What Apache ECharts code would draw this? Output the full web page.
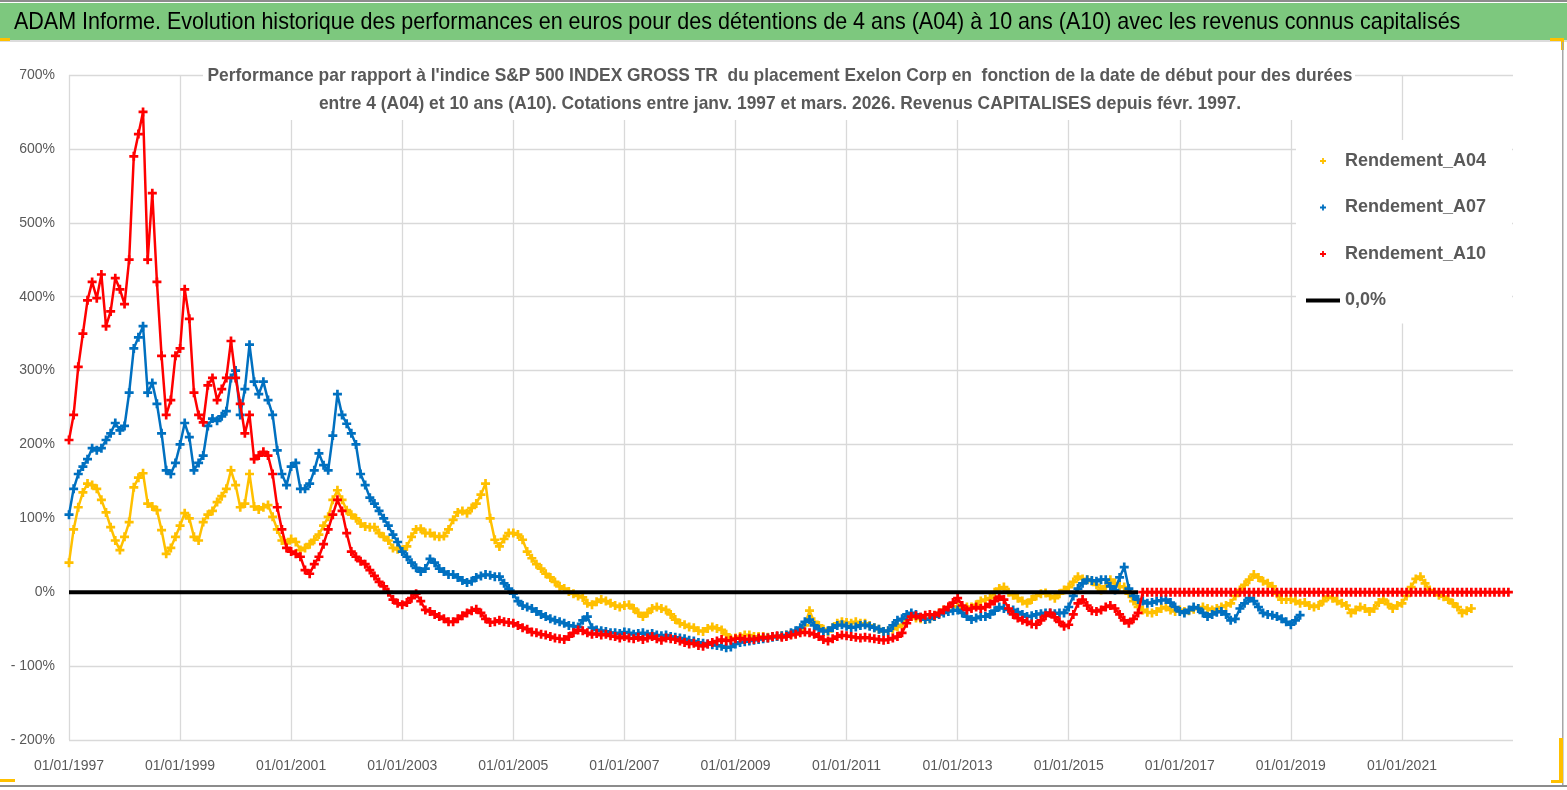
<!DOCTYPE html>
<html>
<head>
<meta charset="utf-8">
<script src="https://cdn.jsdelivr.net/npm/echarts@6/dist/echarts.min.js"></script>
<style>
  html, body { margin: 0; padding: 0; background: #ffffff; }
  #chart { width: 1567px; height: 790px; }
</style>
</head>
<body>
<div id="chart"></div>
<script>
// ---- Data (monthly readings, first value = January 1997) ----
const startYear = 1997;
const xTickYears = [1997, 1999, 2001, 2003, 2005, 2007, 2009, 2011, 2013, 2015, 2017, 2019, 2021];
const yTicks = [-200, -100, 0, 100, 200, 300, 400, 500, 600, 700];
const seriesNames = ['Rendement_A04', 'Rendement_A07', 'Rendement_A10', '0,0%'];

const rendementA04 = [
  40, 85, 115, 135, 147, 145, 140, 125, 108, 88, 70, 57,
  75, 95, 142, 155, 161, 120, 116, 111, 84, 52, 60, 75,
  90, 107, 100, 75, 70, 95, 105, 110, 122, 130, 140, 165,
  145, 115, 120, 160, 116, 112, 115, 118, 102, 85, 70, 66,
  72, 68, 57, 60, 65, 71, 78, 90, 102, 125, 138, 125,
  111, 105, 100, 93, 89, 88, 88, 80, 75, 70, 60, 58,
  57, 62, 75, 85, 86, 80, 80, 76, 75, 76, 85, 98,
  108, 110, 107, 114, 120, 132, 147, 100, 71, 62, 72, 80,
  80, 78, 71, 55, 46, 38, 32, 25, 20, 14, 8, 5,
  1, -2, -5, -7, -15, -17, -13, -10, -12, -15, -18, -20,
  -18, -17, -22, -28, -33, -28, -22, -20, -22, -24, -30, -37,
  -42, -44, -47, -48, -52, -53, -49, -47, -49, -51, -57, -63,
  -62, -60, -58, -58, -60, -60, -60, -61, -60, -60, -59, -58,
  -57, -55, -52, -45, -25, -40, -45, -50, -53, -48, -42, -40,
  -41, -42, -40, -42, -42, -45, -48, -50, -53, -52, -50, -47,
  -44, -36, -33, -35, -36, -37, -36, -33, -28, -24, -20, -19,
  -20, -21, -20, -20, -17, -12, -10, -8, 0, 5, 7, 0,
  -4, -8, -12, -15, -10, -5, -2, -1, -5, -8, -2, 3,
  7, 14, 21, 18, 17, 15, 10, 3, 8, 17, 12, 8,
  7, -2, -12, -20, -24, -27, -28, -26, -22, -20, -24, -26,
  -24, -26, -25, -23, -22, -20, -22, -24, -22, -20, -18, -15,
  -5, 3, 10, 17, 24, 20, 15, 12, 8, -2, -10, -10,
  -10, -12, -15, -14, -18, -20, -18, -12, -6, -8, -12, -15,
  -18, -28, -24, -20, -22, -26, -22, -14, -10, -16, -22, -18,
  -15, -5, 7, 18, 21, 12, 3, 0, -4, -6, -10, -15,
  -20, -28, -25, -22
];

const rendementA07 = [
  105, 140, 160, 170, 180, 195, 192, 195, 206, 215, 229, 219,
  225, 270, 330, 345, 360, 270, 283, 255, 215, 165, 160, 175,
  200, 229, 210, 165, 175, 185, 225, 235, 232, 238, 245, 290,
  300, 240, 275, 335, 285, 268, 285, 260, 240, 192, 160, 145,
  170, 175, 140, 140, 147, 165, 188, 172, 165, 212, 268, 240,
  228, 215, 200, 160, 145, 128, 120, 110, 100, 90, 78, 68,
  55, 48, 40, 33, 28, 32, 45, 40, 32, 28, 24, 24,
  20, 16, 13, 15, 20, 22, 24, 23, 21, 21, 12, 5,
  -2, -12, -18, -20, -22, -26, -30, -33, -36, -38, -40, -42,
  -45, -46, -47, -38, -33, -48, -51, -52, -53, -55, -55, -56,
  -54, -55, -57, -56, -55, -57, -56, -58, -59, -58, -60, -61,
  -62, -63, -65, -66, -68, -69, -70, -71, -72, -73, -75, -74,
  -70, -68, -67, -66, -65, -64, -63, -62, -61, -60, -59, -58,
  -55, -52, -48, -40, -37, -45, -50, -53, -52, -48, -45, -44,
  -46, -48, -47, -45, -44, -46, -48, -50, -53, -52, -45, -38,
  -36, -30, -28, -30, -34, -37, -36, -33, -30, -28, -26, -25,
  -24, -28, -33, -37, -35, -33, -33, -30, -25, -20, -22, -24,
  -24, -27, -30, -33, -32, -30, -29, -28, -28, -29, -28, -28,
  -20, -5, 5, 12, 17, 16, 15, 17, 17, 8, 3, 20,
  34, 5, -5, -10, -12, -15, -14, -12, -11, -10, -14, -20,
  -26, -28, -24, -20, -22, -28, -33, -30, -27, -26, -30, -38,
  -36, -22, -15, -8, -12, -20, -28, -30, -31, -33, -36, -40,
  -44, -38, -31
];

const rendementA10 = [
  206, 240, 305, 350, 395, 420, 398, 430, 360, 380, 425, 410,
  390, 450, 590, 620, 650, 450, 540, 420, 320, 240, 260, 320,
  330, 410, 370, 270, 240, 230, 280, 290, 260, 275, 290, 340,
  290, 255, 215, 240, 180, 185, 190, 185, 160, 115, 85, 60,
  55, 52, 48, 30, 25, 38, 48, 65, 85, 105, 125, 110,
  80, 55, 48, 42, 38, 30, 22, 14, 8, 0, -10, -15,
  -17, -14, -8, -2, -12, -24, -26, -30, -33, -36, -40, -40,
  -36, -32, -28, -25, -23, -28, -36, -41, -40, -38, -40, -41,
  -42, -45, -48, -50, -54, -55, -57, -58, -60, -62, -63, -64,
  -60, -55, -51, -52, -55, -57, -56, -58, -57, -59, -60, -62,
  -60, -62, -63, -61, -64, -62, -60, -63, -65, -62, -63, -64,
  -66, -68, -70, -69, -72, -73, -70, -68, -66, -64, -66, -65,
  -63, -62, -64, -63, -64, -62, -61, -62, -60, -59, -61, -60,
  -58, -57, -55, -54, -55, -57, -60, -64, -66, -63, -60, -58,
  -59, -60, -61, -62, -61, -62, -63, -64, -65, -64, -62, -60,
  -55, -42, -33, -32, -34, -31, -30, -31, -28, -24, -20, -14,
  -8, -18, -24, -22, -20, -22, -20, -16, -12, -6, -10, -22,
  -30, -35, -38, -40, -43, -44, -38, -32, -28, -34, -40, -46,
  -44, -30, -15, -10, -18, -25, -26, -24, -20, -18, -22, -30,
  -38, -42, -36, -28,
  0, 0, 0, 0, 0, 0, 0, 0,
  0, 0, 0, 0, 0, 0, 0, 0, 0, 0, 0, 0,
  0, 0, 0, 0, 0, 0, 0, 0, 0, 0, 0, 0,
  0, 0, 0, 0, 0, 0, 0, 0, 0, 0, 0, 0,
  0, 0, 0, 0, 0, 0, 0, 0, 0, 0, 0, 0,
  0, 0, 0, 0, 0, 0, 0, 0, 0, 0, 0, 0,
  0, 0, 0, 0, 0, 0, 0, 0, 0, 0, 0, 0
];

// 0,0% reference line : start and end (decimal years) with value 0
const zeroLineYears = [1997, 2016.25];
const zeroLineValues = [0, 0];

const mainTitle = 'ADAM Informe. Evolution historique des performances en euros pour des détentions de 4 ans (A04) à 10 ans (A10) avec les revenus connus capitalisés';
const subTitle1 = "Performance par rapport à l'indice S&P 500 INDEX GROSS TR  du placement Exelon Corp en  fonction de la date de début pour des durées";
const subTitle2 = 'entre 4 (A04) et 10 ans (A10). Cotations entre janv. 1997 et mars. 2026. Revenus CAPITALISES depuis févr. 1997.';

// ---- Build ----
const toPoints = arr => arr.map((v, i) => [startYear + i / 12, v]);
const FONT = "'Liberation Sans', Arial, sans-serif";
const PLUS = 'path://M3.5,0 H6.5 V3.5 H10 V6.5 H6.5 V10 H3.5 V6.5 H0 V3.5 H3.5 Z';
const BAR = 'path://M0,0 H34 V4 H0 Z';
const GRAY = '#595959';
const COLORS = ['#FFC000', '#0070C0', '#FF0000'];
const SERIES_DATA = [rendementA04, rendementA07, rendementA10];

const chart = echarts.init(document.getElementById('chart'), null, { renderer: 'canvas' });

const series = [];
SERIES_DATA.forEach((arr, k) => {
  // trace joining consecutive readings (gives the dense band look)
  series.push({
    name: '_trace' + k, type: 'line', data: toPoints(arr),
    symbol: 'none', showSymbol: false,
    lineStyle: { color: COLORS[k], width: 2.5 },
    itemStyle: { color: COLORS[k] },
    silent: true, z: 2 + k * 2
  });
  series.push({
    name: seriesNames[k], type: 'scatter', data: toPoints(arr),
    symbol: PLUS, symbolSize: 9,
    itemStyle: { color: COLORS[k], opacity: 1 },
    silent: true, z: 3 + k * 2
  });
});
series.push({
  name: seriesNames[3], type: 'line',
  data: zeroLineYears.map((y, i) => [y, zeroLineValues[i]]),
  symbol: 'none', showSymbol: false,
  lineStyle: { color: '#000000', width: 4 },
  itemStyle: { color: '#000000' },
  silent: true, z: 10
});

const option = {
  animation: false,
  backgroundColor: '#ffffff',
  textStyle: { fontFamily: FONT },
  grid: { left: 69, right: 54, top: 75, bottom: 50, containLabel: false },
  legend: {
    orient: 'vertical',
    left: 1296,
    top: 140,
    padding: [10, 26, 12, 10],
    backgroundColor: '#ffffff',
    itemWidth: 34,
    itemHeight: 6,
    itemGap: 24.5,
    z: 20,
    textStyle: { fontFamily: FONT, fontSize: 18, fontWeight: 'bold', color: GRAY, lineHeight: 22 },
    data: [
      { name: seriesNames[0], icon: PLUS },
      { name: seriesNames[1], icon: PLUS },
      { name: seriesNames[2], icon: PLUS },
      { name: seriesNames[3], icon: BAR }
    ]
  },
  xAxis: {
    type: 'value',
    min: 1997, max: 2023, interval: 2,
    axisLine: { show: false },
    axisTick: { show: false },
    splitLine: { show: true, showMaxLine: false, lineStyle: { color: '#d9d9d9', width: 1.3 } },
    axisLabel: {
      fontFamily: FONT, fontSize: 14, color: GRAY, margin: 19,
      formatter: v => (xTickYears.indexOf(v) >= 0 ? '01/01/' + v : '')
    }
  },
  yAxis: {
    type: 'value',
    min: yTicks[0], max: yTicks[yTicks.length - 1], interval: 100,
    axisLine: { show: false },
    axisTick: { show: false },
    splitLine: { show: true, lineStyle: { color: '#d9d9d9', width: 1.3 } },
    axisLabel: {
      fontFamily: FONT, fontSize: 14, color: GRAY, margin: 14,
      formatter: v => (v < 0 ? '- ' + (-v) + '%' : v + '%')
    }
  },
  series: series,
  graphic: [
    { type: 'rect', shape: { x: 0, y: 0, width: 1567, height: 2 }, style: { fill: '#8c8c8c' }, silent: true },
    { type: 'rect', shape: { x: 0, y: 3, width: 1567, height: 37 }, style: { fill: '#7DC87E' }, silent: true },
    { type: 'rect', shape: { x: 0, y: 40, width: 1567, height: 2 }, style: { fill: '#dcdcdc' }, silent: true },
    { type: 'rect', shape: { x: 0, y: 38, width: 10, height: 3 }, style: { fill: '#FFC000' }, silent: true },
    { type: 'rect', shape: { x: 1550, y: 38, width: 14, height: 3 }, style: { fill: '#FFC000' }, silent: true },
    { type: 'rect', shape: { x: 1561, y: 38, width: 3, height: 12 }, style: { fill: '#FFC000' }, silent: true },
    { type: 'rect', shape: { x: 1562, y: 42, width: 1.5, height: 744 }, style: { fill: '#a6a6a6' }, silent: true },
    { type: 'rect', shape: { x: 1559, y: 738, width: 4, height: 45 }, style: { fill: '#FFC000' }, silent: true },
    { type: 'rect', shape: { x: 1551, y: 780, width: 12, height: 3 }, style: { fill: '#FFC000' }, silent: true },
    { type: 'rect', shape: { x: 0, y: 779, width: 15, height: 3 }, style: { fill: '#FFC000' }, silent: true },
    { type: 'rect', shape: { x: 0, y: 785, width: 1567, height: 2 }, style: { fill: '#8c8c8c' }, silent: true },
    {
      type: 'text', x: 14, y: 22, scaleX: 0.896, silent: true,
      style: { text: mainTitle, fontFamily: FONT, fontSize: 24, fill: '#000000', textAlign: 'left', textVerticalAlign: 'middle' }
    },
    // subtitle block with white background over the grid
    { type: 'rect', shape: { x: 203, y: 62, width: 1152, height: 58 }, style: { fill: '#ffffff' }, silent: true, z: 15 },
    {
      type: 'text', x: 780, y: 76, scaleX: 0.915, silent: true, z: 16,
      style: { text: subTitle1, fontFamily: FONT, fontSize: 19, fontWeight: 'bold', fill: GRAY, textAlign: 'center', textVerticalAlign: 'middle' }
    },
    {
      type: 'text', x: 780, y: 104, scaleX: 0.915, silent: true, z: 16,
      style: { text: subTitle2, fontFamily: FONT, fontSize: 19, fontWeight: 'bold', fill: GRAY, textAlign: 'center', textVerticalAlign: 'middle' }
    }
  ]
};

chart.setOption(option);
</script>
</body>
</html>
